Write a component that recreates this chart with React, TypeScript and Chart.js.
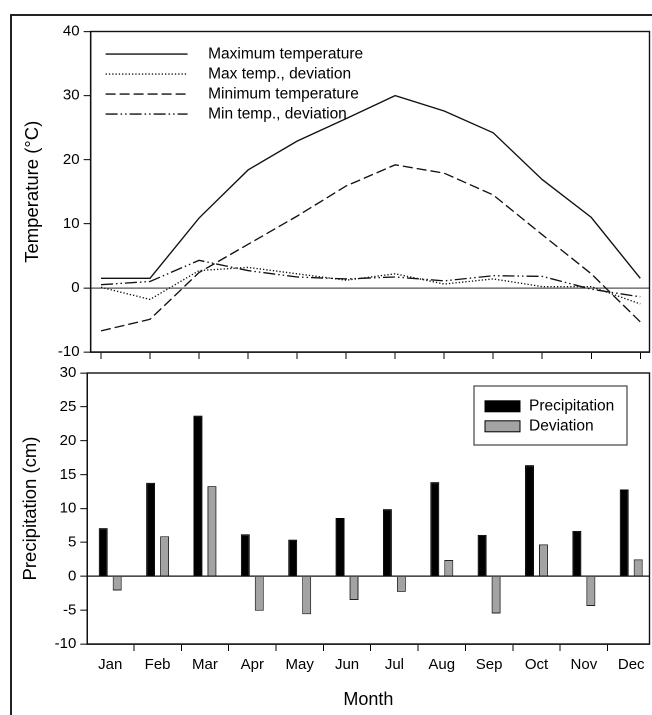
import React, { useEffect, useRef } from "react";
import { Chart, registerables } from "chart.js";

Chart.register(...registerables);

const months = ["Jan", "Feb", "Mar", "Apr", "May", "Jun", "Jul", "Aug", "Sep", "Oct", "Nov", "Dec"];
const maxTemp = [1.5, 1.5, 10.9, 18.4, 22.9, 26.4, 30.0, 27.6, 24.2, 16.9, 11.0, 1.5];
const maxTempDev = [0.1, -1.8, 2.7, 3.2, 2.2, 1.2, 2.2, 0.6, 1.4, 0.2, 0.2, -2.5];
const minTemp = [-6.7, -4.9, 2.4, 6.8, 11.2, 15.9, 19.2, 17.9, 14.5, 8.3, 2.2, -5.3];
const minTempDev = [0.5, 1.0, 4.3, 2.7, 1.7, 1.4, 1.7, 1.1, 1.9, 1.8, -0.2, -1.4];
const precip = [7.1, 13.8, 23.7, 6.2, 5.4, 8.6, 9.9, 13.9, 6.1, 16.4, 6.7, 12.8];
const precipDev = [-2.1, 5.9, 13.3, -5.1, -5.6, -3.5, -2.3, 2.4, -5.5, 4.7, -4.4, 2.5];
const tempTicks = [-10, 0, 10, 20, 30, 40];
const precipTicks = [-10, -5, 0, 5, 10, 15, 20, 25, 30];
const tempLabels = ["Maximum temperature", "Max temp., deviation", "Minimum temperature", "Min temp., deviation"];
const precipLabels = ["Precipitation", "Deviation"];

const FONT = "'Liberation Sans', Arial, Helvetica, sans-serif";

const boxPlugin = {
  id: "plotBox",
  afterDraw(chart: any) {
    const { ctx, chartArea: a } = chart;
    ctx.save();
    ctx.strokeStyle = "#111";
    ctx.lineWidth = 1.4;
    ctx.strokeRect(a.left, a.top, a.right - a.left, a.bottom - a.top);
    ctx.restore();
  },
};

const tempLegendPlugin = {
  id: "tempLegend",
  afterDraw(chart: any) {
    const { ctx, chartArea: a } = chart;
    ctx.save();
    chart.data.datasets.forEach((ds: any, i: number) => {
      const y = a.top + 22.6 + i * 20;
      ctx.beginPath();
      ctx.strokeStyle = ds.borderColor;
      ctx.lineWidth = ds.borderWidth;
      ctx.setLineDash(ds.borderDash || []);
      ctx.moveTo(a.left + 15, y);
      ctx.lineTo(a.left + 97, y);
      ctx.stroke();
      ctx.setLineDash([]);
      ctx.fillStyle = "#000";
      ctx.font = `15.5px ${FONT}`;
      ctx.textBaseline = "middle";
      ctx.textAlign = "left";
      ctx.fillText(ds.label, a.left + 117.5, y);
    });
    ctx.restore();
  },
};

const precipLegendPlugin = {
  id: "precipLegend",
  afterDraw(chart: any) {
    const { ctx, chartArea: a } = chart;
    const bx = a.right - 175.5;
    const by = a.top + 13;
    ctx.save();
    ctx.fillStyle = "#fff";
    ctx.fillRect(bx, by, 153, 59);
    ctx.strokeStyle = "#444";
    ctx.lineWidth = 1.2;
    ctx.strokeRect(bx, by, 153, 59);
    chart.data.datasets.forEach((ds: any, i: number) => {
      const y = by + 20.3 + i * 20;
      ctx.fillStyle = ds.backgroundColor;
      ctx.fillRect(bx + 11, y - 5.5, 35, 11);
      ctx.strokeStyle = "#000";
      ctx.lineWidth = 1;
      ctx.strokeRect(bx + 11, y - 5.5, 35, 11);
      ctx.fillStyle = "#000";
      ctx.font = `15.5px ${FONT}`;
      ctx.textBaseline = "middle";
      ctx.textAlign = "left";
      ctx.fillText(ds.label, bx + 55, y);
    });
    ctx.restore();
  },
};

const monthTicks = (s: any) => {
  s.ticks = months.map((_, i) => ({ value: i }));
};

function TempChart() {
  const ref = useRef<HTMLCanvasElement | null>(null);
  useEffect(() => {
    const mk = (vals: number[]) => vals.map((y, i) => ({ x: i, y }));
    const common = { borderColor: "#111", borderWidth: 1.35, pointRadius: 0, tension: 0, fill: false };
    const chart = new Chart(ref.current as HTMLCanvasElement, {
      type: "line",
      data: {
        datasets: [
          { ...common, label: tempLabels[0], data: mk(maxTemp), borderDash: [] },
          { ...common, label: tempLabels[1], data: mk(maxTempDev), borderDash: [1.3, 2] },
          { ...common, label: tempLabels[2], data: mk(minTemp), borderDash: [10, 4] },
          { ...common, label: tempLabels[3], data: mk(minTempDev), borderDash: [12, 3, 1.5, 3, 1.5, 3] },
        ],
      },
      options: {
        animation: false,
        responsive: false,
        devicePixelRatio: 2,
        layout: { padding: { top: 31.5, right: 2.5, left: 0, bottom: 0 } },
        plugins: { legend: { display: false }, tooltip: { enabled: false } },
        scales: {
          x: {
            type: "linear",
            min: -0.212,
            max: 11.188,
            afterBuildTicks: monthTicks,
            afterFit: (s: any) => { s.height = 10; },
            ticks: { callback: () => "", font: { family: FONT, size: 15 } },
            grid: { drawOnChartArea: false, drawTicks: true, tickLength: 7, tickColor: "#000", tickWidth: 1 },
            border: { display: true, color: "#111", width: 1.4 },
          },
          y: {
            type: "linear",
            min: -10,
            max: 40,
            afterBuildTicks: (s: any) => { s.ticks = tempTicks.map((v) => ({ value: v })); },
            afterFit: (s: any) => { s.width = 90.6; },
            ticks: { color: "#000", padding: 4, font: { family: FONT, size: 15 } },
            grid: {
              drawOnChartArea: true,
              drawTicks: true,
              tickLength: 7,
              tickColor: "#000",
              tickWidth: 1,
              lineWidth: 1.3,
              color: (c: any) => (c.tick && c.tick.value === 0 ? "#555" : "rgba(0,0,0,0)"),
            },
            border: { display: true, color: "#111", width: 1.4 },
            title: {
              display: true,
              text: "Temperature (°C)",
              color: "#000",
              font: { family: FONT, size: 18.5 },
              padding: { top: 21.9, bottom: 0 },
            },
          },
        },
      },
      plugins: [boxPlugin, tempLegendPlugin],
    } as any);
    return () => chart.destroy();
  }, []);
  return (
    <canvas
      ref={ref}
      width={652}
      height={365}
      style={{ position: "absolute", left: 0, top: 0, width: 652, height: 365 }}
    />
  );
}

function PrecipChart() {
  const ref = useRef<HTMLCanvasElement | null>(null);
  useEffect(() => {
    const mk = (vals: number[]) => vals.map((y, i) => ({ x: i, y }));
    const chart = new Chart(ref.current as HTMLCanvasElement, {
      type: "bar",
      data: {
        datasets: [
          {
            label: precipLabels[0],
            data: mk(precip),
            backgroundColor: "#000",
            borderColor: "#000",
            borderWidth: 1,
            categoryPercentage: 0.59,
            barPercentage: 0.64,
          },
          {
            label: precipLabels[1],
            data: mk(precipDev),
            backgroundColor: "#a3a3a3",
            borderColor: "#222",
            borderWidth: 1,
            categoryPercentage: 0.59,
            barPercentage: 0.64,
          },
        ],
      },
      options: {
        animation: false,
        responsive: false,
        devicePixelRatio: 2,
        layout: { padding: { top: 10, right: 2.5, left: 0, bottom: 0 } },
        plugins: { legend: { display: false }, tooltip: { enabled: false } },
        scales: {
          x: {
            type: "linear",
            offset: false,
            min: -0.484,
            max: 11.386,
            afterBuildTicks: monthTicks,
            afterFit: (s: any) => { s.height = 71; },
            ticks: {
              color: "#000",
              padding: 5,
              autoSkip: false,
              maxRotation: 0,
              callback: (v: any) => months[v] ?? "",
              font: { family: FONT, size: 15 },
            },
            grid: { drawOnChartArea: false, drawTicks: true, tickLength: 7, tickColor: "#000", tickWidth: 1 },
            border: { display: true, color: "#111", width: 1.4 },
            title: {
              display: true,
              text: "Month",
              color: "#000",
              font: { family: FONT, size: 18 },
              padding: { top: 0, bottom: 4.2 },
            },
          },
          y: {
            type: "linear",
            min: -10,
            max: 30,
            afterBuildTicks: (s: any) => { s.ticks = precipTicks.map((v) => ({ value: v })); },
            afterFit: (s: any) => { s.width = 87.3; },
            ticks: { color: "#000", padding: 4, font: { family: FONT, size: 15 } },
            grid: {
              drawOnChartArea: true,
              drawTicks: true,
              tickLength: 7,
              tickColor: "#000",
              tickWidth: 1,
              lineWidth: 1.3,
              color: (c: any) => (c.tick && c.tick.value === 0 ? "#111" : "rgba(0,0,0,0)"),
            },
            border: { display: true, color: "#111", width: 1.4 },
            title: {
              display: true,
              text: "Precipitation (cm)",
              color: "#000",
              font: { family: FONT, size: 18.5 },
              padding: { top: 19.9, bottom: 0 },
            },
          },
        },
      },
      plugins: [boxPlugin, precipLegendPlugin],
    } as any);
    return () => chart.destroy();
  }, []);
  return (
    <canvas
      ref={ref}
      width={652}
      height={355}
      style={{ position: "absolute", left: 0, top: 360, width: 652, height: 355 }}
    />
  );
}

export default function App() {
  return (
    <div
      style={{
        position: "absolute",
        left: 0,
        top: 0,
        width: 652,
        height: 715,
        overflow: "hidden",
        background: "#fff",
      }}
    >
      <div
        style={{
          position: "absolute",
          left: 10,
          top: 14,
          width: 800,
          height: 900,
          borderLeft: "2px solid #222",
          borderTop: "2px solid #222",
        }}
      />
      <PrecipChart />
      <TempChart />
    </div>
  );
}
